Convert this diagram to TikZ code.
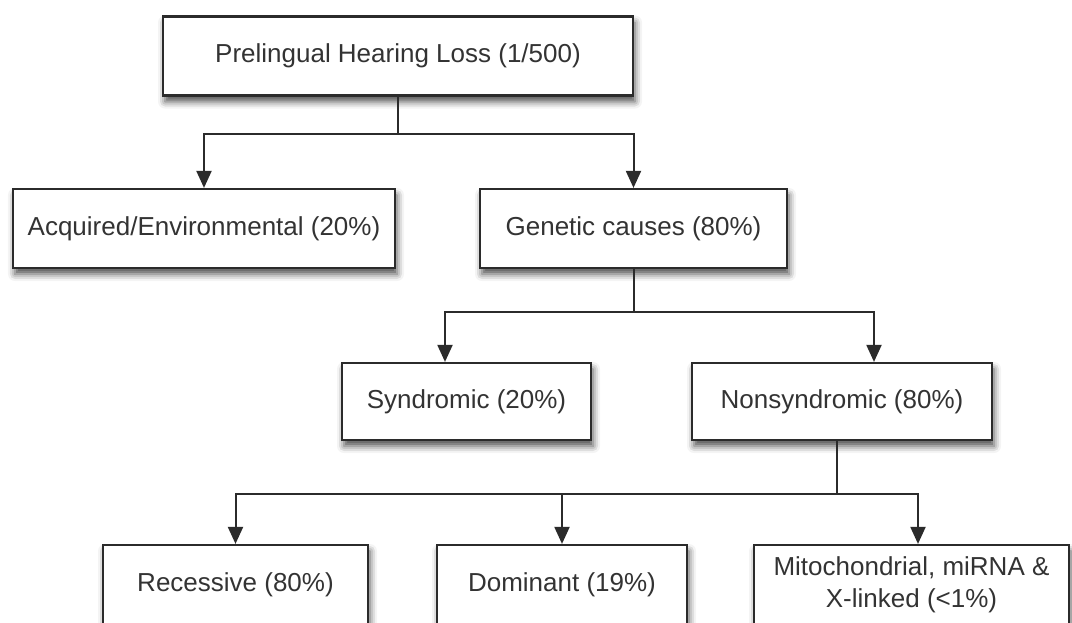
\documentclass[tikz,border=0pt]{standalone}
\usepackage{fontspec}
\setmainfont{Liberation Sans}
\usetikzlibrary{arrows.meta,shadows.blur}
\definecolor{ink}{HTML}{2B2B2B}
\definecolor{txt}{HTML}{333333}
\tikzset{
  box/.style={draw=ink, line width=2.2pt, fill=white, inner sep=0pt, text=txt,
    font=\fontsize{26}{32}\selectfont, align=center,
    blur shadow={shadow xshift=2pt, shadow yshift=-6pt, shadow blur radius=7pt, shadow opacity=70}},
  link/.style={draw=ink, line width=2pt},
  arr/.style={link, -{Triangle[length=17pt,width=15pt]}}
}
\begin{document}
\begin{tikzpicture}[x=1pt,y=-1pt]
\useasboundingbox (0,0) rectangle (1072,622);
\node[box, minimum width=470pt, minimum height=79pt] (b1) at (398,56) {Prelingual Hearing Loss (1/500)};
\node[box, minimum width=382pt, minimum height=79pt] (acq) at (204,228.5) {Acquired/Environmental (20\%)};
\node[box, minimum width=307pt, minimum height=79pt] (gen) at (633.5,228.5) {Genetic causes (80\%)};
\node[box, minimum width=249pt, minimum height=77pt] (syn) at (466.5,401.5) {Syndromic (20\%)};
\node[box, minimum width=300pt, minimum height=77pt] (non) at (842,401.5) {Nonsyndromic (80\%)};
\node[box, minimum width=265pt, minimum height=79pt] (rec) at (235.5,584.5) {Recessive (80\%)};
\node[box, minimum width=250pt, minimum height=79pt] (dom) at (562,584.5) {Dominant (19\%)};
\node[box, minimum width=315pt, minimum height=79pt] (mit) at (911.5,584.5) {Mitochondrial, miRNA \&\\X-linked (<1\%)};
% level 1
\coordinate (j1) at (398,134);
\draw[link] (b1.south) -- (j1);
\draw[arr] (j1) -| (acq.north);
\draw[arr] (j1) -| (gen.north);
% level 2
\coordinate (j2) at (633.5,312);
\coordinate (sa) at (445,312);
\coordinate (na) at (874,312);
\draw[link] (gen.south) -- (j2);
\draw[arr] (j2) -| (sa |- syn.north);
\draw[arr] (j2) -| (na |- non.north);
% level 3
\coordinate (j3) at (837,494);
\coordinate (ma) at (918,494);
\draw[link] (j3 |- non.south) -- (j3);
\draw[arr] (j3) -| (rec.north);
\draw[arr] (j3) -| (dom.north);
\draw[arr] (j3) -| (ma |- mit.north);
\end{tikzpicture}
\end{document}
